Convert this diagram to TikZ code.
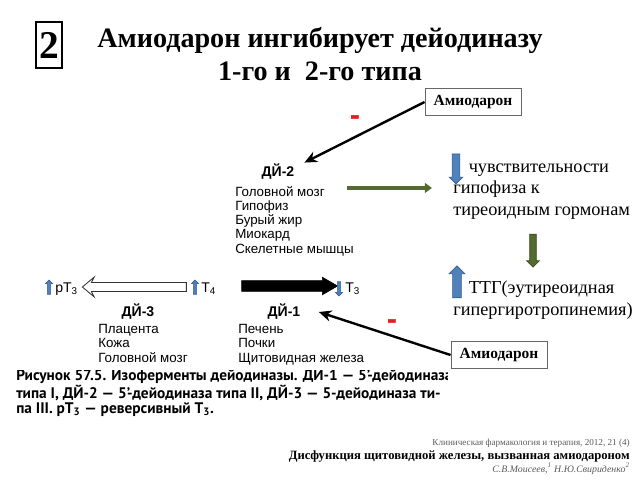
\documentclass[tikz,border=0pt]{standalone}
\usepackage{fontspec}
\setmainfont{Liberation Serif}
\setsansfont{Liberation Sans}
\newfontfamily\figfont{PT Sans}
\usetikzlibrary{shapes.arrows,arrows.meta}

\definecolor{arrowBlue}{RGB}{79,129,189}
\definecolor{arrowBlueEdge}{RGB}{56,93,138}
\definecolor{oliveArrow}{RGB}{84,106,46}
\definecolor{oliveArrowEdge}{RGB}{60,78,32}
\definecolor{minusRed}{RGB}{222,32,32}
\definecolor{sourceGray}{RGB}{90,90,90}

\begin{document}
\begin{tikzpicture}[x=0.025cm, y=-0.025cm,
    organ/.style={font=\sffamily\fontsize{9.5}{10}\selectfont, align=left, anchor=base west, inner sep=0pt},
    enzyme/.style={font=\sffamily\bfseries\fontsize{10}{10}\selectfont, inner sep=1pt},
    hormone/.style={font=\sffamily\fontsize{10}{10}\selectfont, anchor=base west, inner sep=0pt},
    drug/.style={rectangle, draw=black!60, line width=0.6pt, font=\bfseries\fontsize{11}{11}\selectfont,
      minimum width=2.4cm, minimum height=0.68cm},
    effect/.style={font=\fontsize{13}{15}\selectfont, align=left, anchor=base west, inner sep=0pt},
    minus/.style={text=minusRed, font=\sffamily\bfseries\fontsize{22}{22}\selectfont, inner sep=0pt},
    blueArrow/.style={single arrow, draw=arrowBlueEdge, fill=arrowBlue, line width=0.5pt},
    greenArrow/.style={single arrow, draw=oliveArrowEdge, fill=oliveArrow, line width=0.5pt},
    inhibit/.style={line width=1.7pt, -{Stealth[length=9pt,width=8pt]}},
  ]
  \useasboundingbox (0,0) rectangle (640,480);

  %Title
  \node (stepNo) at (49,45) [draw, line width=1.2pt, minimum width=0.65cm, minimum height=1.15cm,
    inner sep=0pt, font=\bfseries\fontsize{28}{28}\selectfont] {2};
  \node (title) at (320,54) [align=center, font=\bfseries\fontsize{20}{23}\selectfont]
    {Амиодарон ингибирует дейодиназу\\1-го и \ 2-го типа};

  %Deiodinase 2 (multi-line nodes sit on their last line)
  \node (deiodTwo) at (278,172) [enzyme] {ДЙ-2};
  \node (organsTwo) at (235,253) [organ]
    {Головной мозг\\Гипофиз\\Бурый жир\\Миокард\\Скелетные мышцы};

  %Row of hormones
  \node (rtUp) at (49,288) [blueArrow, minimum height=0.35cm, inner sep=0.9pt,
    single arrow head extend=1.3pt, shape border rotate=90] {};
  \node (rtThree) at (55,292) [hormone] {pT\textsubscript{3}};
  \node (whiteArrow) at (137,287) [single arrow, draw=black!80, fill=white, line width=0.6pt,
    minimum height=2.6cm, inner sep=2.85pt, single arrow head extend=3.9pt,
    single arrow tip angle=80, single arrow head indent=2pt, shape border rotate=180] {};
  \node (tFourUp) at (195,288) [blueArrow, minimum height=0.35cm, inner sep=0.9pt,
    single arrow head extend=1.3pt, shape border rotate=90] {};
  \node (tFour) at (201,292) [hormone] {T\textsubscript{4}};
  \node (blackArrow) at (285,286) [single arrow, draw=black, fill=black, minimum height=2.4cm,
    inner sep=3.55pt, single arrow head extend=2.5pt, single arrow tip angle=60] {};
  \node (tThreeDown) at (339,288) [blueArrow, minimum height=0.35cm, inner sep=0.9pt,
    single arrow head extend=1.3pt, shape border rotate=270] {};
  \node (tThree) at (345,292) [hormone] {T\textsubscript{3}};

  %Deiodinases 3 and 1
  \node (deiodThree) at (138,312) [enzyme] {ДЙ-3};
  \node (organsThree) at (98,362) [organ] {Плацента\\Кожа\\Головной мозг};
  \node (deiodOne) at (284,312) [enzyme] {ДЙ-1};
  \node (organsOne) at (238,362) [organ] {Печень\\Почки\\Щитовидная железа};

  %Amiodarone
  \node (amiodaroneTop) at (473,102) [drug] {Амиодарон};
  \node (amiodaroneBot) at (499,355) [drug] {Амиодарон};
  \node (minusTop) at (355,121) [minus] {-};
  \node (minusBot) at (392,325) [minus] {-};

  %Effects
  \node (sensitivity) at (453,215) [effect]
    {\hspace*{11pt}чувствительности\\гипофиза к\\тиреоидным гормонам};
  \node (sensDown) at (456,167) [blueArrow, minimum height=0.75cm, inner sep=2.5pt,
    single arrow head extend=2.1pt, shape border rotate=270] {};
  \node (greenDown) at (533,249) [greenArrow, minimum height=0.82cm, inner sep=2.1pt,
    single arrow head extend=2.1pt, shape border rotate=270] {};
  \node (tshRise) at (453,315) [effect]
    {\hspace*{11pt}ТТГ(эутиреоидная\\гипергиротропинемия)};
  \node (tshUp) at (457,284) [blueArrow, minimum height=0.8cm, inner sep=2.85pt,
    single arrow head extend=2.5pt, shape border rotate=90] {};

  %Links
  \draw [inhibit] (amiodaroneTop.west) -- ([xshift=6pt]deiodTwo.north east);
  \draw [inhibit] (amiodaroneBot.west) -- ([xshift=12pt]deiodOne.east);
  \draw [oliveArrow, line width=2.4pt, -{Triangle[length=5pt,width=7pt]}]
    ([xshift=-5pt,yshift=-1pt]organsTwo.north east) -- ([xshift=-15pt,yshift=-1pt]organsTwo.north east -| sensitivity.west);

  %Caption of the figure
  \begin{scope}
    \clip (0,370) rectangle (447,422);
    \node (figCaption) at (16,413) [anchor=base west, align=left, inner sep=0pt,
      font=\figfont\bfseries\fontsize{10.9}{10}\selectfont]
      {Рисунок 57.5. Изоферменты дейодиназы. ДЙ-1 — 5’-дейодиназа\\
       типа I, ДЙ-2 — 5’-дейодиназа типа II, ДЙ-3 — 5-дейодиназа ти-\\
       па III. pT\textsubscript{3} — реверсивный T\textsubscript{3}.};
  \end{scope}

  %Source
  \node (journal) at (630,445) [anchor=base east, inner sep=0pt, text=sourceGray,
    font=\fontsize{6.5}{7}\selectfont] {Клиническая фармакология и терапия, 2012, 21 (4)};
  \node (paper) at (630,459) [anchor=base east, inner sep=0pt,
    font=\bfseries\fontsize{9}{10}\selectfont] {Дисфункция щитовидной железы, вызванная амиодароном};
  \node (authors) at (630,472) [anchor=base east, inner sep=0pt, text=sourceGray,
    font=\itshape\fontsize{7}{8}\selectfont] {С.В.Моисеев,\textsuperscript{1} Н.Ю.Свириденко\textsuperscript{2}};

\end{tikzpicture}
\end{document}
